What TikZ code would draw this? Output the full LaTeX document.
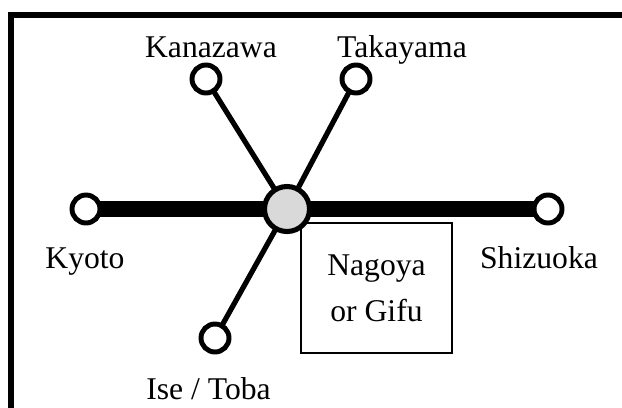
\documentclass[tikz,border=0pt]{standalone}
\usepackage{fontspec}
\setmainfont{Liberation Serif}
\usetikzlibrary{backgrounds}

\begin{document}
\begin{tikzpicture}[x=0.025cm, y=-0.025cm,
  station/.style={draw, circle, fill=white, line width=3.5pt, minimum size=0.7cm, inner sep=0pt},
  hubstation/.style={draw, circle, fill=black!15, line width=3.6pt, minimum size=1.125cm, inner sep=0pt},
  cityname/.style={anchor=base, inner sep=0pt, font=\fontsize{22.5}{27}\selectfont},
  mainline/.style={line width=12pt},
  branchline/.style={line width=3.7pt}]
  \useasboundingbox (0,0) rectangle (622,407);

  % Frame
  \draw[line width=3.6pt] (11,430) -- (11,15) -- (640,15);

  % Box
  \node[draw, line width=1pt, minimum width=3.775cm, minimum height=3.25cm, align=center, font=\fontsize{22.5}{33}\selectfont] (nagoyabox) at (376.5,288) {Nagoya\\or Gifu};

  % Stations
  \node[station] (kyoto) at (86,209) {};
  \node[station] (shizuoka) at (548,209) {};
  \node[station] (kanazawa) at (206,79) {};
  \node[station] (takayama) at (356,79) {};
  \node[station] (isetoba) at (215,338) {};
  \node[hubstation] (hub) at (287,209) {};

  % Names
  \node[cityname] (kanazawaname) at (211,58) {Kanazawa};
  \node[cityname] (takayamaname) at (402,58) {Takayama};
  \node[cityname] (kyotoname) at (85,268) {Kyoto};
  \node[cityname] (shizuokaname) at (539,268) {Shizuoka};
  \node[cityname] (isetobaname) at (208.5,399) {Ise / Toba};

  % Lines
  \begin{scope}[on background layer]
    \draw[mainline] (kyoto.center) -- (hub.center) -- (shizuoka.center);
    \draw[branchline] (kanazawa.center) -- (hub.center);
    \draw[branchline] (takayama.center) -- (hub.center) -- (isetoba.center);
  \end{scope}
\end{tikzpicture}
\end{document}
